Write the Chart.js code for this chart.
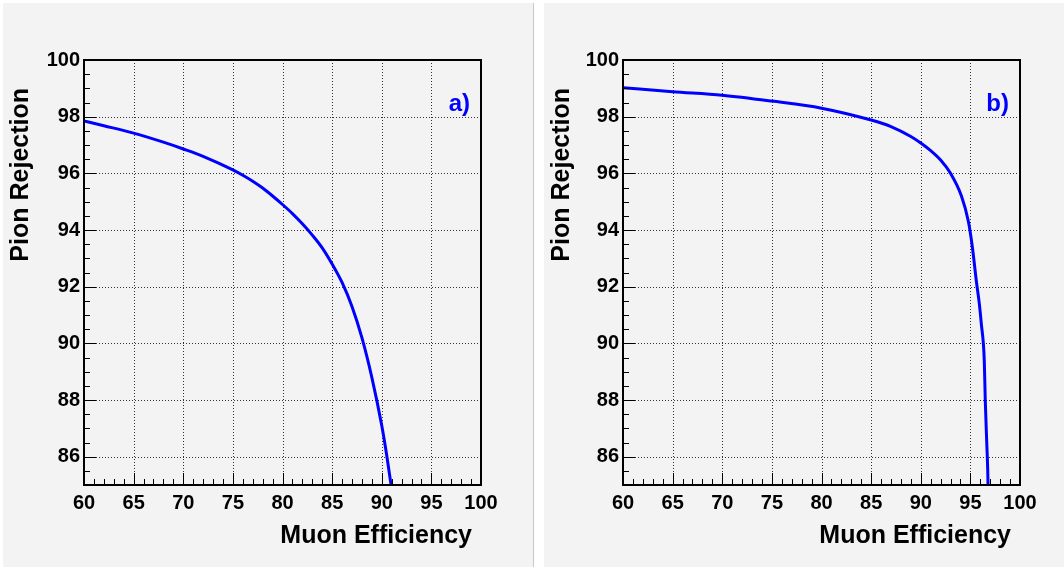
<!DOCTYPE html>
<html><head><meta charset="utf-8">
<script src="https://cdn.jsdelivr.net/npm/chart.js@4.4.0/dist/chart.umd.min.js"></script>
<style>
html,body{margin:0;padding:0;background:#fff;width:1064px;height:567px;overflow:hidden}
.panel{position:absolute;top:3px;height:564px;background:#f3f3f3}
#pa{left:3px;width:530px;border-right:1px solid #c8c8c8}
#pb{left:544px;width:520px}
canvas{display:block}
</style></head><body>
<div class="panel" id="pa"><canvas id="ca" width="530" height="564"></canvas></div>
<div class="panel" id="pb"><canvas id="cb" width="520" height="564"></canvas></div>
<script>
const xTicks=[60,65,70,75,80,85,90,95,100];
const yTicks=[86,88,90,92,94,96,98,100];
const xTitle="Muon Efficiency";
const yTitle="Pion Rejection";
const aX=[60,62,65,68,70,72,75,76,77,78,79,80,81,82,83,84,85,86,87,88,89,90,90.5,91.0];
const aY=[97.85,97.68,97.42,97.1,96.86,96.6,96.12,95.93,95.72,95.48,95.2,94.9,94.58,94.22,93.82,93.37,92.8,92.15,91.3,90.2,88.8,87.1,86.05,84.85];
const bX=[60,65,70,75,80,85,87,89,90,91,92,93,94.1,94.8,95.2,95.6,95.9,96.1,96.4,96.5,96.65,96.75,96.8];
const bY=[99.02,98.88,98.76,98.55,98.3,97.88,97.65,97.3,97.07,96.8,96.47,96.0,95.2,94.3,93.4,92.2,91.4,90.7,89.4,88.0,86.5,85.5,84.6];

Chart.defaults.font.family='"Liberation Sans", Arial, sans-serif';
Chart.defaults.font.size=20;
Chart.defaults.font.weight='bold';
Chart.defaults.color='#000';

function makeChart(id, xs, ys, tag, rightPad, yAxisW){
  const pts=xs.map((x,i)=>({x:x,y:ys[i]}));
  const deco={
    id:'deco'+id,
    beforeDatasetsDraw(chart){
      const c=chart.ctx, a=chart.chartArea, sx=chart.scales.x, sy=chart.scales.y;
      c.save();
      c.strokeStyle='#333'; c.lineWidth=1; c.setLineDash([1,2]);
      xTicks.forEach(v=>{ if(v===sx.min||v===sx.max) return;
        const p=Math.round(sx.getPixelForValue(v))+0.5;
        c.beginPath(); c.moveTo(p,a.top); c.lineTo(p,a.bottom); c.stroke(); });
      yTicks.forEach(v=>{ if(v===sy.min||v===sy.max) return;
        const p=Math.round(sy.getPixelForValue(v))+0.5;
        c.beginPath(); c.moveTo(a.left,p); c.lineTo(a.right,p); c.stroke(); });
      c.restore();
    },
    afterDraw(chart){
      const c=chart.ctx, a=chart.chartArea, sx=chart.scales.x, sy=chart.scales.y;
      c.save();
      c.strokeStyle='#000'; c.lineWidth=1;
      for(let v=sx.min; v<=sx.max; v+=1){
        const p=Math.round(sx.getPixelForValue(v))+0.5;
        const L=(v%5===0)?12:6;
        c.beginPath(); c.moveTo(p,a.bottom); c.lineTo(p,a.bottom-L); c.stroke();
      }
      for(let v=sy.min; v<=sy.max+1e-9; v+=0.5){
        const p=Math.round(sy.getPixelForValue(v))+0.5;
        const L=(Math.abs(v%2)<1e-9)?12:6;
        c.beginPath(); c.moveTo(a.left,p); c.lineTo(a.left+L,p); c.stroke();
      }
      c.lineWidth=2;
      c.strokeRect(Math.round(a.left),Math.round(a.top),Math.round(a.right-a.left),Math.round(a.bottom-a.top));
      c.fillStyle='#000';
      c.font='bold 25px "Liberation Sans", Arial, sans-serif';
      c.textAlign='right'; c.textBaseline='alphabetic';
      c.fillText(xTitle, a.right-9, 540);
      c.save();
      c.translate(25, 85); c.rotate(-Math.PI/2);
      c.textAlign='right';
      c.fillText(yTitle, 0, 0);
      c.restore();
      c.fillStyle='#0000ff';
      c.font='bold 24px "Liberation Sans", Arial, sans-serif';
      c.fillText(tag, a.right-11, 108);
      c.restore();
    }
  };
  return new Chart(document.getElementById(id),{
    type:'line',
    data:{datasets:[{data:pts,borderColor:'#0000ff',borderWidth:3,pointRadius:0,cubicInterpolationMode:'monotone',fill:false}]},
    options:{
      responsive:false, animation:false,
      layout:{padding:{top:57,right:rightPad,left:0,bottom:0}},
      plugins:{legend:{display:false},tooltip:{enabled:false}},
      scales:{
        x:{type:'linear',min:60,max:100,
          afterBuildTicks:s=>{s.ticks=xTicks.map(v=>({value:v}));},
          afterFit:s=>{s.height=82;},
          grid:{display:false,drawTicks:false},border:{display:false},
          ticks:{font:{family:'"Liberation Sans", Arial, sans-serif',size:20,weight:'bold'},color:'#000',padding:6,maxRotation:0,autoSkip:false}},
        y:{type:'linear',min:85,max:100,
          afterBuildTicks:s=>{s.ticks=yTicks.map(v=>({value:v}));},
          afterFit:s=>{s.width=yAxisW;},
          grid:{display:false,drawTicks:false},border:{display:false},
          ticks:{font:{family:'"Liberation Sans", Arial, sans-serif',size:20,weight:'bold'},color:'#000',padding:4,autoSkip:false}}
      }
    },
    plugins:[deco]
  });
}
makeChart('ca',aX,aY,'a)',52,81);
makeChart('cb',bX,bY,'b)',44,79);
</script>
</body></html>
